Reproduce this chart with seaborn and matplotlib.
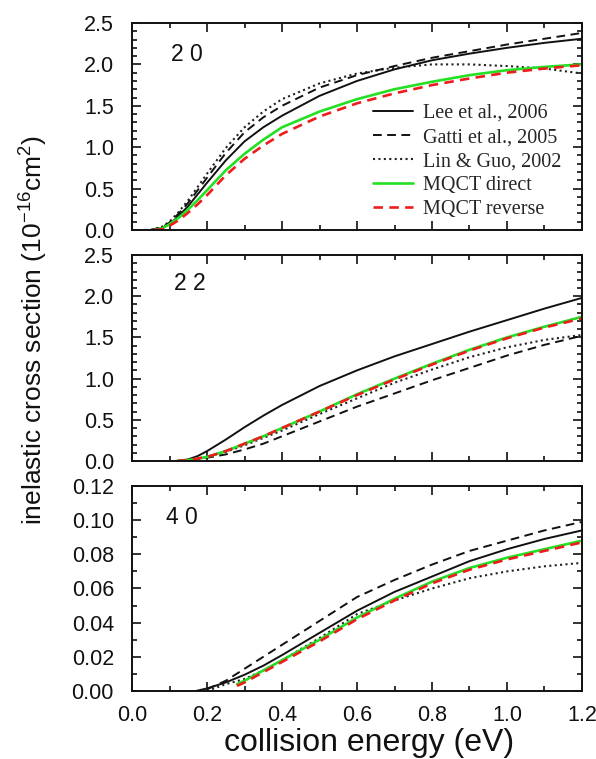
import matplotlib
matplotlib.use("Agg")
import matplotlib.pyplot as plt
import seaborn as sns
from matplotlib.ticker import MultipleLocator, FormatStrFormatter

# ---- data: inelastic cross sections vs collision energy (eV) ----
# transition 2 0
E_20_lee = [0.05, 0.08, 0.10, 0.125, 0.15, 0.175, 0.20, 0.25, 0.30, 0.35, 0.40, 0.50, 0.60, 0.70, 0.80, 0.90, 1.00, 1.10, 1.20]
lee_20 = [0.00, 0.02, 0.07, 0.17, 0.29, 0.43, 0.57, 0.84, 1.07, 1.24, 1.38, 1.62, 1.80, 1.94, 2.05, 2.13, 2.20, 2.26, 2.31]
E_20_gatti = [0.05, 0.08, 0.10, 0.125, 0.15, 0.175, 0.20, 0.25, 0.30, 0.35, 0.40, 0.50, 0.60, 0.70, 0.80, 0.90, 1.00, 1.10, 1.20]
gatti_20 = [0.00, 0.03, 0.09, 0.20, 0.33, 0.48, 0.63, 0.93, 1.18, 1.36, 1.50, 1.72, 1.87, 1.98, 2.08, 2.16, 2.24, 2.31, 2.38]
E_20_lin = [0.05, 0.08, 0.10, 0.125, 0.15, 0.175, 0.20, 0.25, 0.30, 0.35, 0.40, 0.50, 0.60, 0.70, 0.80, 0.90, 1.00, 1.10, 1.20]
lin_20 = [0.00, 0.04, 0.10, 0.22, 0.36, 0.52, 0.68, 0.99, 1.24, 1.43, 1.58, 1.77, 1.89, 1.96, 2.00, 2.00, 1.98, 1.95, 1.89]
E_20_mqct = [0.06, 0.08, 0.10, 0.125, 0.15, 0.175, 0.20, 0.25, 0.30, 0.35, 0.40, 0.50, 0.60, 0.70, 0.80, 0.90, 1.00, 1.10, 1.20]
direct_20 = [0.00, 0.02, 0.07, 0.15, 0.25, 0.36, 0.48, 0.72, 0.92, 1.09, 1.24, 1.43, 1.58, 1.70, 1.79, 1.87, 1.93, 1.97, 2.00]
reverse_20 = [0.00, 0.01, 0.05, 0.12, 0.21, 0.31, 0.42, 0.66, 0.86, 1.02, 1.16, 1.37, 1.53, 1.65, 1.75, 1.83, 1.90, 1.95, 1.99]

# transition 2 2
E_22 = [0.12, 0.15, 0.175, 0.20, 0.25, 0.30, 0.35, 0.40, 0.50, 0.60, 0.70, 0.80, 0.90, 1.00, 1.10, 1.20]
lee_22 = [0.00, 0.02, 0.06, 0.12, 0.26, 0.41, 0.55, 0.68, 0.91, 1.10, 1.27, 1.42, 1.57, 1.71, 1.85, 1.98]
gatti_22 = [0.00, 0.01, 0.02, 0.04, 0.08, 0.14, 0.21, 0.30, 0.48, 0.66, 0.82, 0.98, 1.13, 1.28, 1.41, 1.52]
lin_22 = [0.00, 0.01, 0.03, 0.05, 0.11, 0.19, 0.28, 0.37, 0.57, 0.76, 0.95, 1.11, 1.26, 1.38, 1.47, 1.53]
direct_22 = [0.00, 0.01, 0.03, 0.05, 0.12, 0.21, 0.30, 0.40, 0.60, 0.81, 1.00, 1.18, 1.35, 1.50, 1.63, 1.75]
reverse_22 = [0.00, 0.01, 0.03, 0.05, 0.12, 0.21, 0.30, 0.40, 0.60, 0.80, 0.99, 1.17, 1.34, 1.49, 1.62, 1.73]

# transition 4 0
E_40_lee = [0.17, 0.20, 0.25, 0.30, 0.35, 0.40, 0.50, 0.60, 0.70, 0.80, 0.90, 1.00, 1.10, 1.20]
lee_40 = [0.000, 0.0015, 0.005, 0.0095, 0.0148, 0.021, 0.034, 0.047, 0.058, 0.067, 0.076, 0.083, 0.089, 0.094]
E_40_gatti = [0.20, 0.25, 0.30, 0.35, 0.40, 0.50, 0.60, 0.70, 0.80, 0.90, 1.00, 1.10, 1.20]
gatti_40 = [0.001, 0.006, 0.013, 0.020, 0.027, 0.041, 0.055, 0.065, 0.074, 0.082, 0.088, 0.094, 0.099]
E_40_lin = [0.20, 0.25, 0.30, 0.35, 0.40, 0.50, 0.60, 0.70, 0.80, 0.90, 1.00, 1.10, 1.20]
lin_40 = [0.000, 0.004, 0.007, 0.012, 0.018, 0.031, 0.045, 0.053, 0.060, 0.066, 0.070, 0.073, 0.075]
E_40_mqct = [0.28, 0.30, 0.35, 0.40, 0.50, 0.60, 0.70, 0.80, 0.90, 1.00, 1.10, 1.20]
direct_40 = [0.004, 0.006, 0.012, 0.018, 0.030, 0.043, 0.054, 0.064, 0.072, 0.078, 0.083, 0.088]
reverse_40 = [0.003, 0.005, 0.011, 0.017, 0.029, 0.042, 0.053, 0.063, 0.071, 0.077, 0.082, 0.087]

panel_labels = ["2 0", "2 2", "4 0"]
series_names = ["Lee et al., 2006", "Gatti et al., 2005", "Lin & Guo, 2002", "MQCT direct", "MQCT reverse"]

panels = [
    {"lee": (E_20_lee, lee_20), "gatti": (E_20_gatti, gatti_20), "lin": (E_20_lin, lin_20),
     "direct": (E_20_mqct, direct_20), "reverse": (E_20_mqct, reverse_20)},
    {"lee": (E_22, lee_22), "gatti": (E_22, gatti_22), "lin": (E_22, lin_22),
     "direct": (E_22, direct_22), "reverse": (E_22, reverse_22)},
    {"lee": (E_40_lee, lee_40), "gatti": (E_40_gatti, gatti_40), "lin": (E_40_lin, lin_40),
     "direct": (E_40_mqct, direct_40), "reverse": (E_40_mqct, reverse_40)},
]

styles = {
    "lin": dict(color="#222222", linestyle=(0, (1.0, 1.6)), linewidth=1.5),
    "gatti": dict(color="#111111", linestyle=(0, (4.5, 2.8)), linewidth=1.4),
    "lee": dict(color="#111111", linestyle="-", linewidth=1.4),
    "direct": dict(color="#22e022", linestyle="-", linewidth=1.9),
    "reverse": dict(color="#ee1c1c", linestyle=(0, (3.6, 2.4)), linewidth=1.9),
}
draw_order = ["lin", "gatti", "lee", "direct", "reverse"]
legend_order = ["lee", "gatti", "lin", "direct", "reverse"]

sns.set_theme(style="ticks")
plt.rcParams["font.family"] = ["Liberation Sans", "DejaVu Sans"]
plt.rcParams["axes.linewidth"] = 1.4

fig = plt.figure(figsize=(5.96, 7.59), dpi=100)
left, width = 0.2215, 0.755
rects = [(left, 0.697, width, 0.2727),
         (left, 0.3926, width, 0.2714),
         (left, 0.0896, width, 0.2701)]
ylims = [(0, 2.5), (0, 2.5), (0, 0.12)]
ymaj = [0.5, 0.5, 0.02]
ymin = [0.1, 0.1, 0.01]
yfmt = ["%.1f", "%.1f", "%.2f"]
label_pos = [(0.086, 0.85), (0.094, 0.864), (0.076, 0.844)]

axes = []
for i, rect in enumerate(rects):
    ax = fig.add_axes(rect)
    axes.append(ax)
    data = panels[i]
    for key in draw_order:
        xs, ys = data[key]
        sns.lineplot(x=xs, y=ys, ax=ax, sort=False, estimator=None, legend=False,
                     **styles[key])
    ax.set_xlim(0, 1.2)
    ax.set_ylim(*ylims[i])
    ax.xaxis.set_major_locator(MultipleLocator(0.2))
    ax.xaxis.set_minor_locator(MultipleLocator(0.1))
    ax.yaxis.set_major_locator(MultipleLocator(ymaj[i]))
    ax.yaxis.set_minor_locator(MultipleLocator(ymin[i]))
    ax.yaxis.set_major_formatter(FormatStrFormatter(yfmt[i]))
    ax.xaxis.set_major_formatter(FormatStrFormatter("%.1f"))
    ax.tick_params(which="both", direction="in", top=True, right=True, width=1.2, color="#111111",
                   labelcolor="#111111")
    ax.tick_params(which="major", length=6.5)
    ax.tick_params(which="minor", length=3.5)
    ax.tick_params(axis="y", which="major", labelsize=15.5, pad=13)
    ax.tick_params(axis="x", which="major", labelsize=15.5, pad=10)
    if i < 2:
        ax.tick_params(axis="x", labelbottom=False)
    for s in ax.spines.values():
        s.set_color("#111111")
    ax.set_xlabel("")
    ax.set_ylabel("")
    ax.text(label_pos[i][0], label_pos[i][1], panel_labels[i], transform=ax.transAxes,
            fontsize=16.5, ha="left", va="center", color="#111111")

# legend in the first panel
top = axes[0]
line_map = dict(zip(draw_order, top.get_lines()[:len(draw_order)]))
handles = [line_map[k] for k in legend_order]
top.legend(handles, series_names, loc="center left", bbox_to_anchor=(0.535, 0.33),
           frameon=False, prop={"family": ["Liberation Serif", "DejaVu Serif"], "size": 14.5},
           handlelength=2.0, handletextpad=0.5, labelspacing=0.25, borderpad=0, borderaxespad=0)

fig.text(0.055, 0.565, r"inelastic cross section (10$^{\mathregular{-16}}$cm$^{\mathregular{2}}$)",
         rotation=90, ha="center", va="center", fontsize=19, color="#111111")
fig.text(0.62, 0.021, "collision energy (eV)", ha="center", va="center", fontsize=23, color="#111111")

fig.savefig("out.png", dpi=100)
